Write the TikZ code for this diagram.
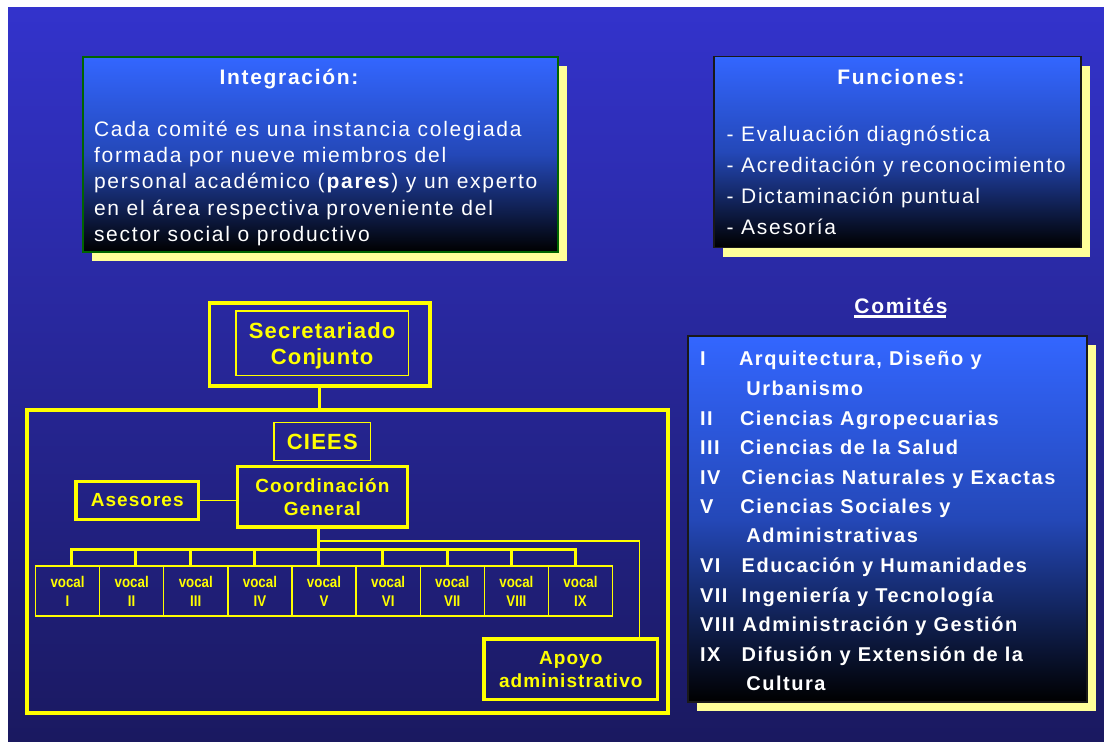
\documentclass[tikz,border=0pt]{standalone}
\usepackage{fontspec}
\setmainfont{Liberation Sans}
\newfontfamily\bluefont{Liberation Sans}[LetterSpace=8.4]
\newfontfamily\funfont{Liberation Sans}[LetterSpace=8.1]
\newfontfamily\comfont{Liberation Sans}[LetterSpace=7.7]
\newfontfamily\yelfont{Liberation Sans}[LetterSpace=5.5]
\newfontfamily\vocfont{Liberation Sans}[FakeStretch=0.86]
\usetikzlibrary{shadows}
\definecolor{bgtop}{RGB}{51,51,204}
\definecolor{bgbot}{RGB}{26,25,96}
\definecolor{boxtop}{RGB}{51,102,255}
\definecolor{boxmid}{RGB}{36,72,184}
\definecolor{shyel}{RGB}{255,255,153}
\definecolor{yel}{RGB}{255,255,0}
\definecolor{dkgreen}{RGB}{0,100,0}
\begin{document}
\begin{tikzpicture}[x=1pt,y=-1pt,
  bluebox/.style={rectangle, inner sep=0pt, outer sep=0pt, top color=boxtop, bottom color=black, middle color=boxmid, line width=1.5pt, drop shadow={shadow xshift=9pt,shadow yshift=-9pt,fill=shyel,opacity=1}},
  wtext/.style={anchor=base west, inner sep=0pt, outer sep=0pt, text=white, font={\bluefont\fontsize{21pt}{26pt}\selectfont}},
  ftext/.style={wtext, font={\funfont\fontsize{21pt}{26pt}\selectfont}},
  wtitle/.style={anchor=base, inner sep=0pt, outer sep=0pt, text=white, font={\funfont\bfseries\fontsize{21pt}{26pt}\selectfont}},
  ctext/.style={anchor=base west, inner sep=0pt, outer sep=0pt, text=white, font={\comfont\bfseries\fontsize{20pt}{24pt}\selectfont}},
  ybox/.style={rectangle, draw=yel, line width=3.3pt, inner sep=0pt, outer sep=0pt, text=yel, align=center},
  ythin/.style={rectangle, draw=yel, line width=1.3pt, inner sep=0pt, outer sep=0pt, text=yel, align=center},
  vbox/.style={ythin, minimum width=64.12pt, minimum height=50pt, font={\vocfont\bfseries\fontsize{15.5pt}{19pt}\selectfont}},
  ythick/.style={draw=yel, line width=3pt},
  ymid/.style={draw=yel, line width=2.7pt},
  ylight/.style={draw=yel, line width=1.5pt}
]
\useasboundingbox (0,0) rectangle (1104,742);
\fill[white] (0,0) rectangle (1104,742);
\shade[top color=bgtop, bottom color=bgbot] (8,7) rectangle (1104,742);

% Integracion
\node[bluebox, draw=dkgreen, minimum width=475pt, minimum height=195pt] (intbox) at (320.5,154.5) {};
\node[wtitle] (intT) at (289,84.3) {Integración:};
\node[wtext] (int1) at (94,136.5) {Cada comité es una instancia colegiada};
\node[wtext] (int2) at (94,162.7) {formada por nueve miembros del};
\node[wtext] (int3) at (94,188.9) {personal académico (\textbf{pares}) y un experto};
\node[wtext] (int4) at (94,215.1) {en el área respectiva proveniente del};
\node[wtext] (int5) at (94,241.3) {sector social o productivo};

% Funciones
\node[bluebox, draw=black!90, minimum width=367pt, minimum height=191pt] (funbox) at (897.5,152) {};
\node[wtitle] (funT) at (901,84.3) {Funciones:};
\node[ftext] (fun1) at (726.7,141) {- Evaluación diagnóstica};
\node[ftext] (fun2) at (726.7,172.3) {- Acreditación y reconocimiento};
\node[ftext] (fun3) at (726.7,203.7) {- Dictaminación puntual};
\node[ftext] (fun4) at (726.7,234.7) {- Asesoría};

% Comites
\node[wtitle] (comT) at (901,313.3) {Comités};
\draw[white, line width=2.8pt] ([yshift=-3.2pt]comT.base west) -- ([yshift=-3.2pt,xshift=-1.5pt]comT.base east);
\node[bluebox, draw=black!90, minimum width=399pt, minimum height=366pt] (combox) at (887.5,519) {};
\node[ctext] (n1) at (700,365) {I};
\node[ctext] (t1) at (739,365) {Arquitectura, Diseño y};
\node[ctext] (t1b) at (746.3,395) {Urbanismo};
\node[ctext] (n2) at (700,425) {II};
\node[ctext] (t2) at (740,425) {Ciencias Agropecuarias};
\node[ctext] (n3) at (700,454) {III};
\node[ctext] (t3) at (740,454) {Ciencias de la Salud};
\node[ctext] (n4) at (700,484) {IV};
\node[ctext] (t4) at (741.7,484) {Ciencias Naturales y Exactas};
\node[ctext] (n5) at (700,513.3) {V};
\node[ctext] (t5) at (740.3,513.3) {Ciencias Sociales y};
\node[ctext] (t5b) at (746.3,542.7) {Administrativas};
\node[ctext] (n6) at (700,572.7) {VI};
\node[ctext] (t6) at (741.7,572.7) {Educación y Humanidades};
\node[ctext] (n7) at (700,602) {VII};
\node[ctext] (t7) at (741.7,602) {Ingeniería y Tecnología};
\node[ctext] (n8) at (700,631.7) {VIII};
\node[ctext] (t8) at (742.7,631.7) {Administración y Gestión};
\node[ctext] (n9) at (700,661) {IX};
\node[ctext] (t9) at (741.7,661) {Difusión y Extensión de la};
\node[ctext] (t9b) at (746.3,690.7) {Cultura};

% Org chart
\node[ybox, minimum width=220.5pt, minimum height=83pt] (secO) at (319.75,344.5) {};
\node[ythin, minimum width=172.3pt, minimum height=64.3pt, font={\yelfont\bfseries\fontsize{22pt}{26pt}\selectfont}] (secI) at (322.15,343.15) {Secretariado\\Con\smash{j}unto};
\node[ybox, minimum width=641pt, minimum height=303pt] (big) at (347.5,561.5) {};
\node[ythin, minimum width=96.6pt, minimum height=38pt, font={\yelfont\bfseries\fontsize{22pt}{26pt}\selectfont}] (ciees) at (322.3,441.7) {CIEES};
\node[ybox, minimum width=169.6pt, minimum height=60.3pt, font={\yelfont\bfseries\fontsize{19pt}{23.4pt}\selectfont}] (coord) at (322.4,496.85) {Coordinación\\General};
\node[ybox, minimum width=122.5pt, minimum height=37.6pt, font={\yelfont\bfseries\fontsize{19pt}{23.4pt}\selectfont}] (ases) at (137.25,500.5) {Asesores};
\node[ybox, minimum width=173.6pt, minimum height=60.7pt, font={\yelfont\bfseries\fontsize{19pt}{23.4pt}\selectfont}] (apoyo) at (570.8,669.35) {Apoyo\\administrativo};

\foreach \i/\r in {1/I,2/II,3/III,4/IV,5/V,6/VI,7/VII,8/VIII,9/IX}
  \node[vbox] (v\i) at ({67.56+64.12*(\i-1)},591) {vocal\\\r};

\foreach \i/\x in {1/71.3,2/135.3,3/190.7,4/254.8,5/318.8,6/382.8,7/447.2,8/511.2,9/575.5}
  \coordinate (d\i) at (\x,549.5);
\coordinate (ap) at (639.5,541);

\draw[ythick] (secO.south) -- (secO.south |- big.north);
\draw[ylight] (ases.east) -- (ases.east -| coord.west);
\draw[ymid] (d5 |- coord.south) -- (d5 |- v5.north);
\draw[ythick, line cap=rect] (d1) -- (d9);
\foreach \i in {1,2,3,4,6,7,8,9}
  \draw[ymid] (d\i) -- (d\i |- v\i.north);
\draw[ylight] (d5 |- ap) -- (ap) -- (ap |- apoyo.north);
\end{tikzpicture}
\end{document}
